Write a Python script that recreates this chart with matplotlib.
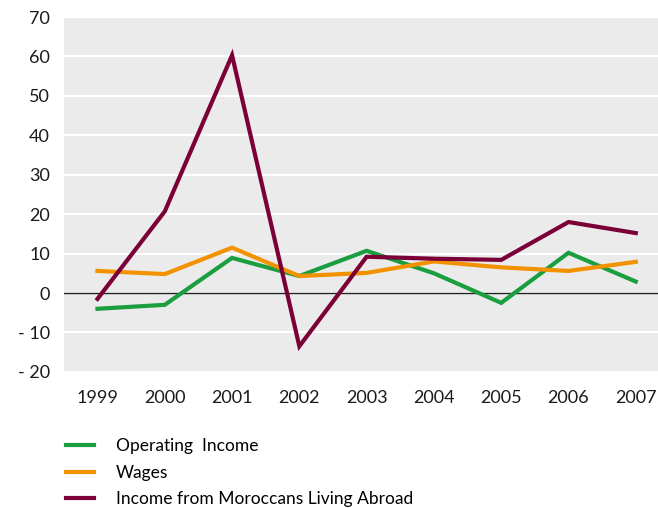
import matplotlib.pyplot as plt

plt.rcParams["font.family"] = ["Lato", "DejaVu Sans"]

# --- données ---
years = [1999, 2000, 2001, 2002, 2003, 2004, 2005, 2006, 2007]
operating_income = [-4.0, -3.0, 8.9, 4.3, 10.7, 5.0, -2.5, 10.2, 2.9]
wages = [5.6, 4.8, 11.5, 4.3, 5.1, 8.0, 6.5, 5.6, 7.9]
mre_income = [-1.5, 20.7, 60.3, -13.5, 9.2, 8.7, 8.4, 18.0, 15.2]
labels = ["Operating  Income", "Wages", "Income from Moroccans Living Abroad"]
yticks = [-20, -10, 0, 10, 20, 30, 40, 50, 60, 70]
ytick_labels = ["- 20", "- 10", "0", "10", "20", "30", "40", "50", "60", "70"]

# --- figure ---
fig = plt.figure(figsize=(6.58, 5.08), dpi=100)
ax = fig.add_axes([0.097, 0.268, 0.903, 0.6985])
ax.set_facecolor("#ebebeb")

ax.plot(years, operating_income, color="#1a9e3f", lw=3, label=labels[0], solid_joinstyle="miter")
ax.plot(years, wages, color="#f39200", lw=3, label=labels[1], solid_joinstyle="miter")
ax.plot(years, mre_income, color="#7b0038", lw=3, label=labels[2], solid_joinstyle="miter")

ax.axhline(0, color="#222222", lw=1, zorder=1.5)
ax.set_ylim(-20, 70)
ax.set_xlim(1998.5, 2007.33)
ax.set_yticks(yticks)
ax.set_yticklabels(ytick_labels)
ax.set_xticks(years)
ax.grid(axis="y", color="white", lw=1.5)
ax.set_axisbelow(True)
for s in ax.spines.values():
    s.set_visible(False)
ax.tick_params(length=0, labelsize=13, colors="#1a1a1a")
ax.tick_params(axis="y", pad=10)
ax.tick_params(axis="x", pad=13)

fig.legend(loc="upper left", bbox_to_anchor=(0.1, 0.138), frameon=False,
           fontsize=12.5, handlelength=1.65, handletextpad=1.25, labelspacing=0.62,
           borderaxespad=0, borderpad=0)

plt.savefig("out.png", dpi=100)
